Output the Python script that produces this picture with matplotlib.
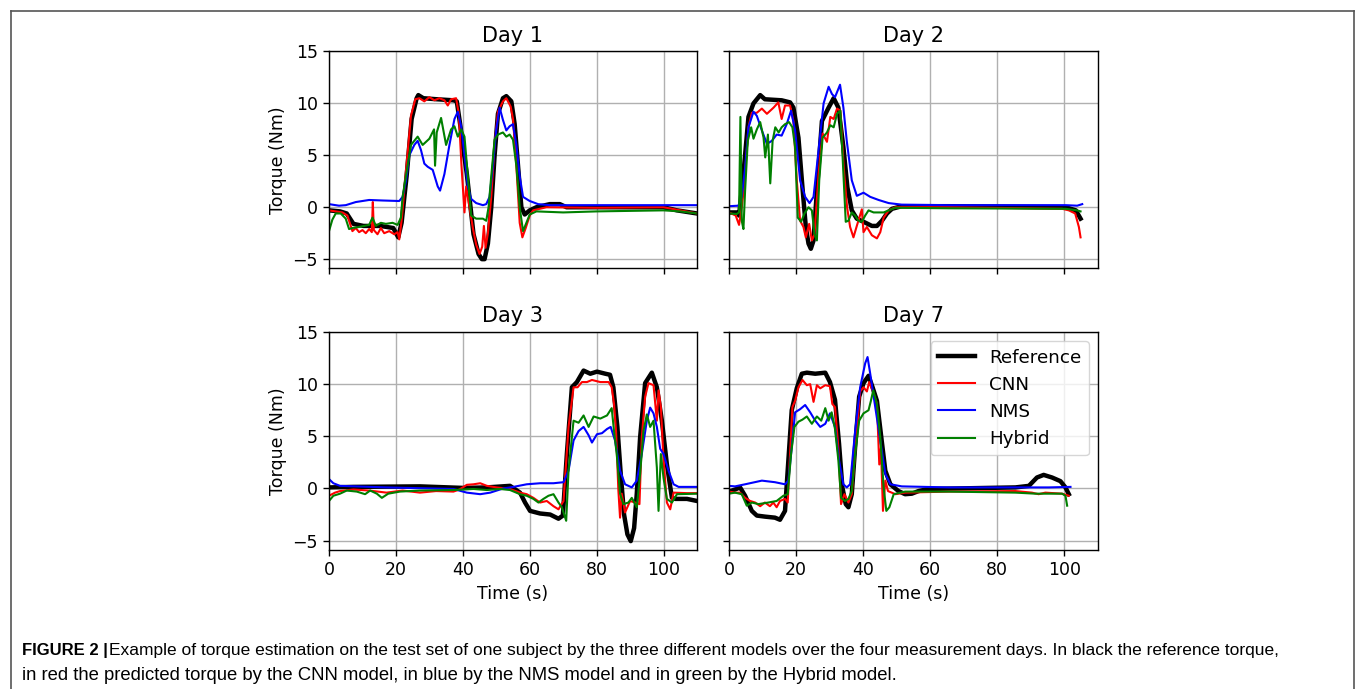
import matplotlib
matplotlib.use("Agg")
import matplotlib.pyplot as plt
from matplotlib.lines import Line2D

# (time s, torque Nm) pairs, one list per model and day
day1_ref = [(0, -0.3), (3.3, -0.4), (5.3, -0.6), (7.3, -1.6), (10.3, -1.8), (15.3, -1.8), (19.2, -2.0),
            (20.7, -2.9), (21.7, -1.5), (23.2, 3.0), (24.7, 8.5), (26.2, 10.5), (26.7, 10.8), (28.2, 10.5),
            (32.2, 10.4), (37.2, 10.3), (38.2, 10.2), (39.2, 8.0), (40.2, 5.5), (41.2, 3.2), (43.2, -2.6),
            (44.7, -4.5), (45.7, -5.0), (46.5, -5.0), (47.5, -3.5), (48.5, 0), (49.5, 5), (50.5, 9),
            (52, 10.5), (53, 10.7), (54.5, 10.2), (55.5, 8), (56.5, 4), (57.5, 0), (58.5, -0.7), (60, -0.3),
            (62, 0), (66, 0.3), (69, 0.3), (71, 0), (100, 0), (104, -0.3), (110, -0.6)]
day1_cnn = [(0, -0.3), (2, -0.4), (4, -0.5), (5.5, -0.8), (7, -2.3), (8, -2.0), (9, -2.4), (10, -2.2),
            (11, -2.5), (12, -2.1), (12.8, -2.4), (13.1, 0.5), (13.4, -2.2), (14.5, -2.6), (15.5, -2.0),
            (16.5, -2.5), (18, -2.3), (19.5, -2.6), (20.5, -2.4), (21, -3.1), (21.8, -1.0), (23, 3.5),
            (24.5, 8.8), (25.8, 10.4), (27, 10.5), (28.5, 10.2), (30, 10.6), (31.5, 10.3), (33, 10.5),
            (34.5, 10.3), (35.5, 9.8), (36.5, 10.4), (38, 10.5), (38.8, 9.0), (39.6, 4.0), (40.5, -0.5),
            (41, 2.0), (42, 0), (43, -2.0), (44, -3.6), (45, -4.5), (45.8, -3.8), (46.3, -1.8), (46.8, -3.9),
            (47.5, -2.5), (48.5, 1), (49.5, 6), (50.5, 9.2), (52, 10.2), (53, 10.5), (54.3, 9.7), (55, 8.5),
            (56, 4), (57, -1.5), (57.8, -2.9), (58.8, -2.0), (60, -0.8), (61, -0.3), (65, 0), (80, -0.05),
            (100, 0), (105, -0.3), (110, -0.6)]
day1_nms = [(0, 0.3), (3, 0.15), (5, 0.2), (8, 0.5), (12, 0.7), (16, 0.65), (21, 0.6), (22, 1.0), (23, 2.5),
            (24, 5.0), (25.5, 6.0), (26.5, 6.4), (27.5, 5.5), (28.5, 4.2), (29.5, 3.9), (31, 3.6), (32.5, 2.0),
            (33.2, 1.6), (34.5, 3.2), (36, 6.0), (37.5, 8.5), (38.5, 9.2), (39.5, 7.8), (40.5, 5.0),
            (41.5, 2.0), (42.5, 0.8), (44, 0.4), (46, 0.2), (47, 0.3), (48, 1.0), (49, 4.0), (50, 7.5),
            (51, 9.6), (52, 8.4), (53, 7.4), (54, 7.8), (55, 8.0), (56, 6.0), (57, 3.0), (58, 1.0), (60, 0.6),
            (62.5, 0.3), (66, 0.2), (110, 0.2)]
day1_hyb = [(0, -2.3), (1, -1.2), (2, -0.6), (3.5, -0.6), (5, -1.1), (6, -2.1), (7, -2.0), (9, -1.9),
            (12, -1.7), (13, -1.0), (14, -1.8), (15.5, -1.5), (17, -1.6), (19, -1.5), (20.5, -1.7),
            (21.5, -1.0), (22, 1.0), (23, 3.0), (24.5, 6.0), (26.5, 6.8), (28, 6.0), (30, 6.6), (31.4, 7.5),
            (31.7, 4.0), (32.2, 7.2), (33.5, 8.6), (35, 6.0), (36.5, 7.5), (37.5, 7.8), (38.5, 6.8),
            (39.5, 7.5), (40.5, 6.8), (41.5, 3.0), (42.5, -0.8), (44, -1.1), (46, -1.1), (47, -1.3),
            (47.7, 0), (48.5, 3.0), (49.5, 6.5), (50.5, 7.0), (52, 7.2), (53, 6.8), (54, 7.0), (55, 6.5),
            (56, 4.0), (57, 0), (58, -2.3), (59, -1.5), (60, -0.7), (62, -0.4), (70, -0.5), (80, -0.4),
            (90, -0.35), (100, -0.3), (105, -0.4), (110, -0.6)]

day2_ref = [(0, -0.5), (2.5, -0.5), (3, -0.8), (4.3, 3.2), (5.8, 8.7), (7.3, 10.0), (9.3, 10.8), (10.7, 10.4),
            (15.7, 10.3), (18.2, 10.1), (19.2, 9.6), (20.7, 6.7), (21.9, 1.9), (22.9, -1.9), (23.7, -3.5),
            (24.4, -4.0), (25.2, -3.2), (26.2, 1.6), (27.7, 8.3), (29.7, 9.6), (31.2, 10.5), (32.6, 9.6),
            (34.1, 5.8), (35.3, 1.9), (36.6, -0.3), (38.1, -1.1), (40.1, -1.4), (42.6, -1.8), (44.1, -1.8),
            (45.6, -1.3), (47.1, -0.6), (48.6, -0.15), (51.5, 0.1), (65.5, 0.1), (100.4, 0), (103.4, -0.3),
            (104.8, -1.1)]
day2_cnn = [(0, -0.5), (2, -0.8), (3, -1.7), (3.8, 0), (4.5, 2.0), (5.8, 7.7), (6.8, 9.1), (8.3, 9.1),
            (9.8, 9.5), (11.3, 9.0), (13.3, 9.6), (14.7, 10.1), (15.7, 8.5), (16.7, 9.8), (18.2, 9.8),
            (19.2, 8.3), (20.2, 2.6), (21.2, -1.3), (22.2, -1.9), (22.9, -2.9), (23.9, -1.6), (24.7, -3.2),
            (25.5, -2.6), (26.7, 3.2), (27.9, 7.1), (29.2, 6.3), (30.2, 8.7), (31.2, 8.5), (32.2, 9.5),
            (33.2, 9.3), (34.2, 3.8), (35.2, 0), (36.1, -1.9), (37.1, -2.9), (38.1, -1.8), (39.6, -0.2),
            (40.1, -2.4), (41.1, -1.9), (42.6, -2.7), (44.1, -3.0), (45.1, -2.4), (46.1, -1.0), (47.6, -0.3),
            (49.6, 0), (65.5, 0), (99.3, -0.15), (101.3, -0.3), (103.2, -0.6), (104.3, -1.9), (104.8, -2.9)]
day2_nms = [(0, 0.1), (2.8, 0.15), (3.8, 1.0), (4.8, 3.8), (5.8, 7.7), (7.3, 9.2), (8.3, 8.8), (9.8, 7.4),
            (11.3, 6.1), (12.8, 6.4), (14.2, 7.0), (15.7, 6.9), (17.2, 8.0), (18.5, 9.3), (19.7, 7.4),
            (21.2, 2.6), (22.7, 1.0), (24.0, 0.4), (25.2, 1.0), (26.7, 5.5), (28.2, 10.0), (29.7, 11.6),
            (30.7, 10.9), (31.6, 10.6), (33.1, 11.8), (34.1, 9.6), (35.1, 6.4), (36.6, 2.6), (38.1, 1.1),
            (40.1, 1.4), (42.1, 1.0), (44.6, 0.7), (47.6, 0.4), (51.5, 0.25), (65.5, 0.2), (100.4, 0.2),
            (103.8, 0.15), (105.3, 0.3)]
day2_hyb = [(0, -0.6), (2.3, -0.65), (3.0, -0.5), (3.4, 8.7), (3.8, -1.3), (4.3, -2.1), (4.8, 1.6),
            (5.6, 6.4), (6.6, 7.7), (7.3, 6.6), (8.3, 7.5), (9.3, 8.2), (10.3, 6.7), (10.8, 4.8), (11.6, 7.0),
            (12.3, 2.3), (13.0, 6.4), (13.8, 7.7), (14.8, 7.2), (15.7, 7.7), (16.7, 8.0), (17.9, 8.2),
            (18.9, 7.7), (19.7, 5.8), (20.5, -1.0), (21.5, -1.4), (22.5, -0.6), (23.7, 0), (24.7, -0.3),
            (25.5, -2.6), (26.2, -3.2), (26.9, 2.6), (27.9, 6.7), (29.2, 7.2), (30.2, 7.9), (31.2, 7.7),
            (32.2, 9.0), (33.2, 9.3), (34.2, 2.6), (34.8, -1.4), (35.6, -1.3), (36.6, -0.5), (37.6, -0.8),
            (38.6, -1.3), (39.6, -1.4), (40.6, -0.8), (41.6, -0.3), (43.1, -0.5), (46.1, -0.5), (47.6, -0.3),
            (49.6, -0.05), (65.5, -0.1), (100.4, -0.15), (103.8, -0.3), (104.8, -0.4)]

day3_ref = [(0, 0.1), (7.3, 0.15), (27.2, 0.2), (40.2, 0.05), (47.2, 0.1), (54.1, 0.25), (57.1, -0.4),
            (58.6, -1.35), (60.1, -2.15), (63.1, -2.4), (66.1, -2.5), (68.6, -2.9), (69.9, -2.6), (71.1, 3.3),
            (72.6, 9.7), (74.1, 10.2), (76.1, 11.3), (78.1, 11.0), (80.1, 11.2), (82.6, 11.0), (84.0, 10.9),
            (85.0, 9.7), (86.2, 5.9), (87.2, 1.4), (88.2, -2.5), (89.2, -4.4), (90.2, -5.05), (91.2, -3.8),
            (92.0, -0.5), (93.0, 4.9), (94.5, 10.1), (96.5, 11.1), (98.0, 9.7), (99.5, 6.5), (101.0, 2.3),
            (102.5, -0.9), (103.5, -1.0), (107, -1.0), (110, -1.2)]
day3_cnn = [(0, -0.7), (1.8, -0.4), (3.3, -0.25), (7.3, -0.1), (12, -0.2), (17.2, -0.4), (22, -0.2),
            (27.2, -0.4), (32, -0.25), (37.2, -0.3), (39, -0.1), (41.2, 0.35), (43.2, 0.4), (45.2, 0.5),
            (47.2, 0.25), (50.1, 0.1), (54.1, -0.05), (57.1, -0.4), (59.1, -0.55), (61.1, -0.9), (63.1, -1.35),
            (65.1, -1.2), (67.1, -1.7), (68.6, -2.0), (70.1, -1.2), (71.6, 5.9), (73.1, 9.7), (74.3, 9.7),
            (75.6, 10.2), (77.1, 10.2), (78.6, 10.4), (81.1, 10.2), (83.6, 10.2), (84.5, 9.7), (85.2, 8.1),
            (85.8, 5.5), (86.5, -0.2), (87.0, -2.8), (87.5, -0.5), (88.5, -2.3), (90.0, -1.2), (91.5, -1.35),
            (92.8, -1.5), (93.5, 4.9), (94.5, 8.8), (95.5, 10.1), (97.0, 9.9), (98.0, 6.5), (98.5, 9.4),
            (99.2, 7.8), (100, 2.7), (101, -1.35), (102, -2.0), (103, -0.4), (107, -0.45), (110, -0.45)]
day3_nms = [(0, 0.9), (1.3, 0.5), (3.3, 0.25), (17.2, 0.1), (37.2, -0.05), (41.2, -0.4), (45.2, -0.55),
            (48.2, -0.4), (52.1, 0), (55.1, 0.15), (59.1, 0.4), (63.1, 0.5), (67.1, 0.5), (70.1, 0.6),
            (71.6, 1.7), (73.1, 4.6), (74.6, 5.5), (76.1, 5.9), (77.6, 5.1), (78.6, 4.4), (80.1, 5.2),
            (81.6, 5.3), (83.1, 5.7), (84.2, 5.9), (85.5, 4.6), (87.0, 1.7), (88.5, 0.4), (90.5, 0.1),
            (92.0, 0.75), (93.5, 3.3), (95.0, 6.5), (96.0, 7.75), (97.0, 7.2), (98.0, 5.9), (99.0, 3.8),
            (100, 3.3), (101.5, 1.7), (103, 0.4), (104.5, 0.15), (110, 0.15)]
day3_hyb = [(0, -1.2), (1.3, -0.7), (3.3, -0.5), (5.3, -0.2), (8.3, -0.3), (10.8, -0.55), (12.3, -0.2),
            (14.3, -0.5), (15.8, -0.9), (17.7, -0.5), (21.2, -0.3), (27.2, -0.2), (37.2, -0.15), (43.2, -0.05),
            (47.2, -0.15), (51.1, -0.05), (54.1, -0.15), (57.1, -0.55), (59.1, -0.7), (61.1, -1.0),
            (62.6, -1.35), (64.1, -1.0), (65.6, -0.7), (67.1, -0.55), (68.6, -1.35), (69.6, -1.8),
            (70.9, -3.1), (71.6, 1.7), (73.1, 6.5), (74.6, 6.3), (76.1, 7.0), (77.6, 5.9), (79.1, 6.9),
            (81.1, 6.7), (83.1, 7.0), (84.5, 7.7), (85.2, 5.5), (86.0, 3.3), (87.0, -0.5), (88.0, -1.5),
            (89.5, -1.35), (90.5, -0.9), (92.0, -1.8), (93.0, 1.4), (94.0, 5.5), (95.0, 7.1), (96.0, 5.9),
            (97.0, 6.5), (98.0, 2.0), (98.5, -2.15), (99.2, 3.3), (100, 1.0), (101, -1.0), (102.5, -1.35),
            (104, -0.55), (110, -0.5)]

day7_ref = [(0, -0.3), (1.8, -0.1), (3.3, 0.1), (4.8, -0.7), (6.8, -2.15), (8.3, -2.6), (10.7, -2.7),
            (13.7, -2.8), (15.2, -3.0), (16.7, -2.15), (17.7, 2.7), (18.7, 7.5), (20.2, 9.6), (21.7, 11.0),
            (23.2, 11.1), (25.7, 11.0), (28.7, 11.1), (30.1, 10.2), (31.6, 8.5), (32.8, 4.3), (33.8, 0.1),
            (34.8, -1.5), (35.6, -1.8), (36.6, -0.55), (37.6, 4.0), (38.8, 8.8), (40.1, 10.1), (41.6, 10.8),
            (42.8, 9.7), (44.1, 8.4), (45.4, 4.9), (46.6, 1.7), (48.1, 0.4), (50.5, -0.25), (52.5, -0.55),
            (54.5, -0.5), (56.5, -0.25), (59.5, -0.05), (85.4, 0.1), (89.4, 0.25), (91.8, 1.05), (93.8, 1.3),
            (96.3, 1.05), (98.8, 0.7), (100.3, 0.1), (101.3, -0.55)]
day7_cnn = [(0, -0.3), (1.8, -0.4), (3.3, -0.4), (4.8, -0.9), (6.3, -1.2), (7.8, -1.35), (9.3, -1.7),
            (10.7, -1.35), (12.2, -1.7), (13.2, -1.35), (14.2, -1.8), (15.2, -1.2), (16.7, -1.0), (17.5, -1.35),
            (18.2, 3.3), (18.9, 7.8), (19.7, 8.4), (20.7, 9.7), (21.9, 10.4), (23.2, 9.9), (24.2, 10.0),
            (25.2, 8.3), (26.2, 9.9), (27.2, 9.6), (28.7, 9.9), (30.1, 9.8), (30.8, 8.1), (31.6, 7.8),
            (32.6, 3.9), (33.4, -1.5), (34.4, -0.55), (35.6, -1.35), (36.6, -0.55), (38.1, 5.5), (39.1, 9.3),
            (40.1, 9.7), (41.1, 9.3), (41.8, 10.2), (42.8, 9.4), (44.1, 8.1), (44.8, 2.3), (45.3, 3.9),
            (45.9, -2.15), (46.6, 0.75), (47.4, -0.25), (49.6, -0.55), (52.5, -0.4), (65.5, -0.3),
            (85.4, -0.25), (90.3, -0.4), (92.3, -0.55), (94.3, -0.4), (99.3, -0.5), (101.3, -0.7)]
day7_nms = [(0, 0.25), (1.8, 0.2), (4.8, 0.4), (9.8, 0.75), (13.7, 0.6), (16.7, 0.4), (17.7, 0.75),
            (18.7, 3.9), (19.7, 7.3), (21.2, 7.6), (22.7, 8.0), (24.2, 7.3), (25.7, 6.5), (27.2, 5.9),
            (28.7, 6.2), (30.1, 7.2), (31.6, 5.9), (32.8, 2.7), (34.1, 0.4), (35.1, 0.1), (36.1, 0.4),
            (37.6, 5.5), (39.1, 9.7), (40.6, 12.0), (41.3, 12.6), (42.1, 11.0), (43.6, 7.8), (45.1, 4.6),
            (46.6, 1.4), (48.1, 0.4), (51.5, 0.2), (65.5, 0.1), (90.3, 0.1), (95.3, 0.1), (101.8, 0.15)]
day7_hyb = [(0, -0.5), (1.8, -0.4), (3.8, -0.55), (5.3, -1.65), (6.8, -1.35), (8.8, -1.5), (11.7, -1.35),
            (14.2, -1.2), (16.2, -0.7), (17.5, -0.55), (18.5, 3.3), (19.5, 5.9), (20.7, 6.4), (21.9, 6.6),
            (23.2, 6.9), (24.7, 6.2), (26.2, 6.9), (27.5, 6.5), (28.7, 7.7), (29.7, 6.5), (30.6, 7.3),
            (31.6, 5.7), (32.6, 2.7), (33.4, -0.9), (34.6, -1.2), (35.6, -1.0), (36.6, -0.25), (37.6, 3.3),
            (38.8, 6.5), (40.1, 7.2), (41.6, 7.5), (42.3, 8.4), (43.0, 9.4), (44.1, 8.1), (45.1, 4.9),
            (46.1, 0.1), (46.9, -2.15), (47.8, -1.8), (49.1, -0.55), (52.5, -0.3), (65.5, -0.3), (85.4, -0.4),
            (91.3, -0.5), (99.3, -0.5), (100.3, -0.7), (100.8, -1.65)]

day_titles = ["Day 1", "Day 2", "Day 3", "Day 7"]
model_names = ["Reference", "CNN", "NMS", "Hybrid"]
model_colors = ["black", "red", "blue", "green"]
model_widths = [3.2, 1.5, 1.5, 1.5]

days = [
    [day1_ref, day1_cnn, day1_nms, day1_hyb],
    [day2_ref, day2_cnn, day2_nms, day2_hyb],
    [day3_ref, day3_cnn, day3_nms, day3_hyb],
    [day7_ref, day7_cnn, day7_nms, day7_hyb],
]

caption_bold = "FIGURE 2 |"
caption_line1 = ("Example of torque estimation on the test set of one subject by the three different models "
                 "over the four measurement days. In black the reference torque,")
caption_line2 = "in red the predicted torque by the CNN model, in blue by the NMS model and in green by the Hybrid model."

plt.rcParams.update({
    "font.size": 12.5,
    "axes.linewidth": 1.0,
    "xtick.major.size": 4.4,
    "ytick.major.size": 4.4,
    "xtick.major.width": 1.0,
    "ytick.major.width": 1.0,
    "grid.color": "#b0b0b0",
    "grid.linewidth": 1.0,
})

W, H = 1355, 689
fig = plt.figure(figsize=(W / 100, H / 100), dpi=100)


def box(left, top, right, bottom):
    return [left / W, 1 - bottom / H, (right - left) / W, (bottom - top) / H]


ax1 = fig.add_axes(box(329, 51.5, 697, 268.5))
ax2 = fig.add_axes(box(729, 51.5, 1098, 268.5), sharex=ax1, sharey=ax1)
ax3 = fig.add_axes(box(329, 332, 697, 550), sharex=ax1, sharey=ax1)
ax4 = fig.add_axes(box(729, 332, 1098, 550), sharex=ax1, sharey=ax1)
axes = [ax1, ax2, ax3, ax4]

for ax, title, series in zip(axes, day_titles, days):
    for pts, name, col, lw in zip(series, model_names, model_colors, model_widths):
        t = [p[0] for p in pts]
        v = [p[1] for p in pts]
        ax.plot(t, v, color=col, lw=lw, label=name)
    ax.set_title(title, fontsize=15, pad=7)
    ax.grid(True)

ax1.set_xlim(0, 110)
ax1.set_ylim(-5.9, 15)
ax1.set_yticks([-5, 0, 5, 10, 15])
ax1.set_xticks([0, 20, 40, 60, 80, 100])

ax1.tick_params(labelbottom=False)
ax2.tick_params(labelbottom=False, labelleft=False)
ax4.tick_params(labelleft=False)
ax1.set_ylabel("Torque (Nm)")
ax3.set_ylabel("Torque (Nm)")
ax3.set_xlabel("Time (s)")
ax4.set_xlabel("Time (s)")

handles = [Line2D([], [], color=c, lw=w) for c, w in zip(model_colors, model_widths)]
ax4.legend(handles, model_names, loc="upper right", fontsize=13.2)

# outer frame of the figure panel
frame_kw = dict(color="#555555", lw=1.2, transform=fig.transFigure)
fig.add_artist(Line2D([10.5 / W, 10.5 / W], [0, 1 - 10.5 / H], **frame_kw))
fig.add_artist(Line2D([10.5 / W, 1354 / W], [1 - 10.5 / H, 1 - 10.5 / H], **frame_kw))
fig.add_artist(Line2D([1354 / W, 1354 / W], [0, 1 - 10.5 / H], **frame_kw))

# caption
cap_font = ["Liberation Sans", "DejaVu Sans"]
tb = fig.text(22 / W, 1 - 651 / H, caption_bold, fontsize=12, fontweight="bold",
              family=cap_font, va="center", ha="left")
renderer = fig.canvas.get_renderer()
bb = tb.get_window_extent(renderer)
fig.text(bb.x1 / W + 1 / W, 1 - 651 / H, caption_line1, fontsize=12.55, family=cap_font,
         va="center", ha="left")
fig.text(22 / W, 1 - 676 / H, caption_line2, fontsize=13.35, family=cap_font, va="center", ha="left")

fig.savefig("out.png", dpi=100)
